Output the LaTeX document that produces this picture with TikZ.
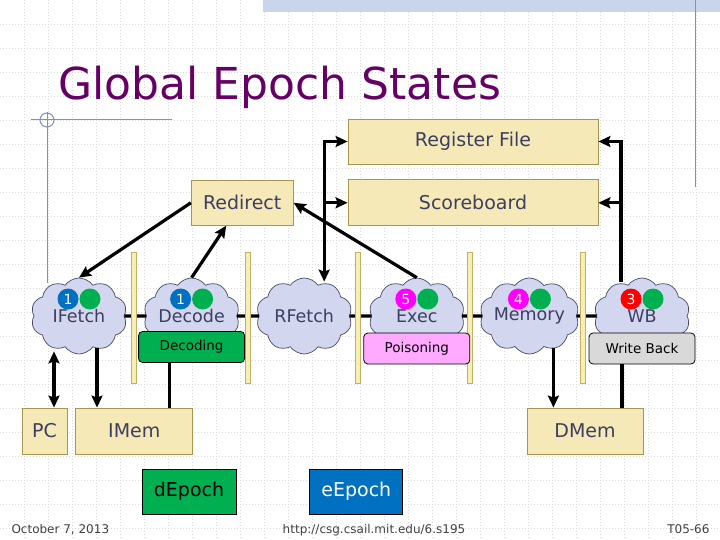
\documentclass[tikz,border=0pt]{standalone}
\usepackage{fontspec}
\setmainfont{DejaVu Sans}
\usetikzlibrary{shapes.symbols, positioning, arrows.meta, calc}
\definecolor{tanfill}{HTML}{F5E9B8}
\definecolor{tanedge}{HTML}{A8964E}
\definecolor{slatetext}{HTML}{3E3E62}
\definecolor{titlepurple}{HTML}{660066}
\definecolor{cloudfill}{HTML}{D2D6EE}
\definecolor{cloudedge}{HTML}{4A4A6A}
\definecolor{epochblue}{HTML}{0070C0}
\definecolor{epochgreen}{HTML}{00B050}
\definecolor{epochpink}{HTML}{FF00FF}
\definecolor{epochred}{HTML}{FF0000}
\definecolor{poison}{HTML}{FFAAFF}
\definecolor{wbgrey}{HTML}{D9D9D9}
\definecolor{fifobar}{HTML}{F7EFB2}
\definecolor{fifoedge}{HTML}{C4AE6A}
\definecolor{decoline}{HTML}{8090B8}
\definecolor{bandblue}{HTML}{C9D5EA}
\tikzset{
  tanbox/.style={rectangle, draw=tanedge, fill=tanfill, line width=0.8bp, inner sep=0pt, text=slatetext, font=\fontsize{19bp}{22bp}\selectfont},
  stage/.style={cloud, cloud puffs=10, cloud puff arc=110, cloud ignores aspect, draw=cloudedge, fill=cloudfill, line width=0.7bp, minimum width=96bp, minimum height=76bp, inner sep=0pt, text=slatetext, font=\fontsize{17.5bp}{20bp}\selectfont},
  statebox/.style={rectangle, rounded corners=4bp, draw=black, line width=0.8bp, minimum width=106bp, minimum height=31bp, inner sep=0pt, font=\fontsize{13.5bp}{16bp}\selectfont},
  epochbox/.style={rectangle, draw=black, line width=0.8bp, minimum width=94bp, minimum height=45bp, inner sep=0pt, font=\fontsize{19bp}{22bp}\selectfont},
  epochdot/.style={circle, minimum size=21bp, inner sep=0pt, text=white, font=\fontsize{14bp}{16bp}\selectfont},
  fifo/.style={draw=fifoedge, fill=fifobar, line width=0.7bp},
  arrow/.style={line width=3.2bp, -{Stealth[length=12bp,width=11bp,inset=2bp]}},
  dblarrow/.style={line width=3.2bp, {Stealth[length=12bp,width=11bp,inset=2bp]}-{Stealth[length=12bp,width=11bp,inset=2bp]}},
  link/.style={line width=3.2bp},
  gridline/.style={black!15, line width=0.5bp, dash pattern=on 1bp off 2bp},
  decoline/.style={draw=decoline, line width=1bp},
  footer/.style={text=black!75, font=\fontsize{12bp}{14bp}\selectfont}
}
\begin{document}
\begin{tikzpicture}[x=1bp, y=-1bp]
    \useasboundingbox (0,0) rectangle (720,540);

    % slide background
    \foreach \gx in {24,48,...,696} \draw[gridline] (\gx,0) -- (\gx,540);
    \foreach \gy in {24,48,...,528} \draw[gridline] (0,\gy) -- (720,\gy);
    \fill[bandblue] (263,0) rectangle (720,12);
    \draw[decoline] (695,0) -- (695,187);
    \draw[decoline] (31,120) -- (172,120);
    \draw[decoline] (47,112) -- (47,283);
    \draw[decoline] (47,120) circle [radius=7bp];

    \node (title) [anchor=base west, text=titlepurple, font=\fontsize{44bp}{50bp}\selectfont] at (55,100) {Global Epoch States};

    % shared state
    \node (regf) [tanbox, minimum width=250bp, minimum height=45bp] at (473,141.5) {Register File};
    \node (sb) [tanbox, minimum width=250bp, minimum height=46bp, below=15bp of regf] {Scoreboard};
    \node (redir) [tanbox, minimum width=102bp, minimum height=45bp, left=54bp of sb] {Redirect};

    % pipeline stages
    \node (ifetch) [stage] at (79,316) {IFetch};
    \node (decode) [stage] at (191.6,316) {Decode};
    \node (rfetch) [stage] at (304.2,316) {RFetch};
    \node (exec) [stage] at (416.8,316) {Exec};
    \node (memory) [stage] at (529.4,316) {Memory};
    \node (wb) [stage] at (642,316) {WB};

    \draw[link] (ifetch) -- (decode);
    \draw[link] (decode) -- (rfetch);
    \draw[link] (rfetch) -- (exec);
    \draw[link] (exec) -- (memory);
    \draw[link] (memory) -- (wb);

    % fifos
    \foreach \bx in {134,248,358,470,583}
        \draw[fifo] ({\bx-2.5},252) rectangle ({\bx+2.5},383);

    \node (decoding) [statebox, fill=epochgreen] at ([yshift=-31bp]decode.center) {Decoding};
    \node (poisoning) [statebox, fill=poison] at ([yshift=-32.5bp]exec.center) {Poisoning};
    \node (wback) [statebox, fill=wbgrey] at ([yshift=-32.5bp]wb.center) {Write Back};

    % epoch dots
    \node (ifetchep) [epochdot, fill=epochblue] at ([xshift=-11bp,yshift=17bp]ifetch.center) {1};
    \node (ifetchok) [epochdot, fill=epochgreen] at ([xshift=11bp,yshift=17bp]ifetch.center) {};
    \node (decodeep) [epochdot, fill=epochblue] at ([xshift=-11bp,yshift=17bp]decode.center) {1};
    \node (decodeok) [epochdot, fill=epochgreen] at ([xshift=11bp,yshift=17bp]decode.center) {};
    \node (execep) [epochdot, fill=epochpink] at ([xshift=-11bp,yshift=17bp]exec.center) {5};
    \node (execok) [epochdot, fill=epochgreen] at ([xshift=11bp,yshift=17bp]exec.center) {};
    \node (memoryep) [epochdot, fill=epochpink] at ([xshift=-11bp,yshift=17bp]memory.center) {4};
    \node (memoryok) [epochdot, fill=epochgreen] at ([xshift=11bp,yshift=17bp]memory.center) {};
    \node (wbep) [epochdot, fill=epochred] at ([xshift=-11bp,yshift=17bp]wb.center) {3};
    \node (wbok) [epochdot, fill=epochgreen] at ([xshift=11bp,yshift=17bp]wb.center) {};

    % memories and epochs
    \node (pc) [tanbox, minimum width=45bp, minimum height=46bp] at (44.5,431) {PC};
    \node (imem) [tanbox, minimum width=117bp, minimum height=46bp, right=8bp of pc] {IMem};
    \node (dmem) [tanbox, minimum width=116bp, minimum height=46bp] at (585,431) {DMem};
    \node (depoch) [epochbox, fill=epochgreen] at (189,491.5) {dEpoch};
    \node (eepoch) [epochbox, fill=epochblue, text=white, minimum width=93bp, right=73bp of depoch] {eEpoch};

    % redirect
    \draw[arrow] (redir.west) -- (ifetch.north);
    \draw[arrow] (decode.north) -- ([xshift=-16bp]redir.south);
    \draw[arrow] (exec.north) -- (redir.east);

    % register file / scoreboard
    \coordinate (rdtap) at ([xshift=20bp,yshift=-4bp]rfetch.north);
    \draw[dblarrow] (regf.west) -| (rdtap);
    \draw[arrow] (rdtap |- sb.west) -- (sb.west);
    \coordinate (wrtap) at ([xshift=-21bp,yshift=-4bp]wb.north);
    \draw[arrow] (wrtap) |- (regf.east);
    \draw[arrow] (wrtap |- sb.east) -- (sb.east);

    % memory ports
    \coordinate (pcup) at ([xshift=9.5bp]pc.north);
    \draw[dblarrow] (pcup) -- ([yshift=3bp]pcup |- ifetch.south);
    \coordinate (ifdown) at ([xshift=18bp,yshift=6bp]ifetch.south);
    \draw[arrow] (ifdown) -- (ifdown |- imem.north);
    \coordinate (dctap) at ([xshift=-22bp]decoding.south);
    \draw[link] (dctap) -- (dctap |- imem.north);
    \coordinate (memdown) at ([xshift=24bp,yshift=6bp]memory.south);
    \draw[arrow] (memdown) -- (memdown |- dmem.north);
    \coordinate (wbtap) at ([xshift=-20bp]wback.south);
    \draw[link] (wbtap) -- (wbtap |- dmem.north);

    % footer
    \node (date) [footer, anchor=base west] at (8,533) {October 7, 2013};
    \node (url) [footer, anchor=base] at (374,533) {http://csg.csail.mit.edu/6.s195};
    \node (slideno) [footer, anchor=base east] at (713,533) {T05-66};
\end{tikzpicture}
\end{document}
